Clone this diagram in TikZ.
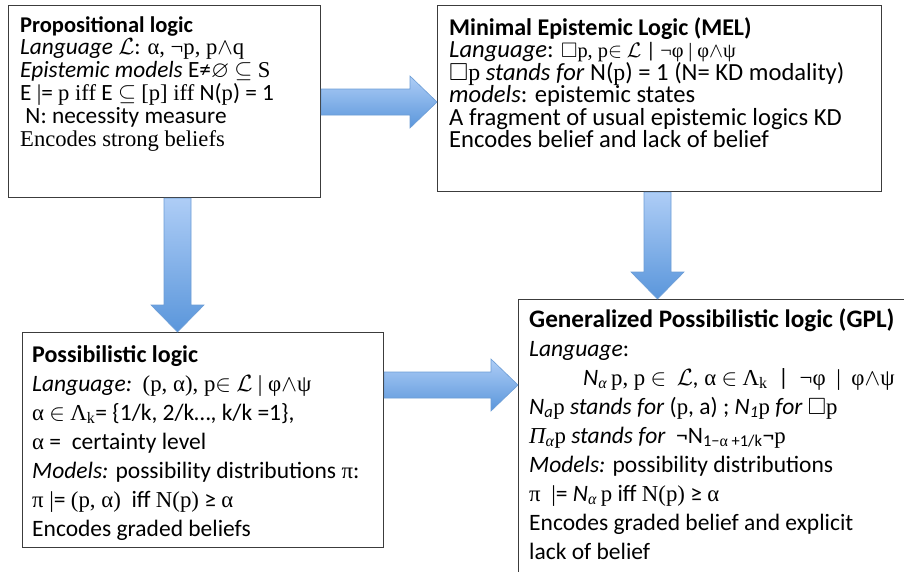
\RequirePackage{fix-cm}
\documentclass[tikz,border=0pt]{standalone}
\usepackage{amssymb}
\usepackage{fontspec}
\setmainfont{Carlito}
\newfontfamily\tm{Liberation Serif}[Scale=0.97]
\usetikzlibrary{calc}
\definecolor{arrtop}{HTML}{AECDF6}
\definecolor{arrbot}{HTML}{5A96DB}
\definecolor{arrline}{HTML}{6C9DD6}
\definecolor{boxline}{HTML}{3C3C3C}
\newcommand\boxtext[4]{\parbox[t]{#1}{\raggedright\fontsize{#2}{#3}\selectfont\lineskiplimit=-100pt\lineskip=0pt #4}}
\newcommand\smallsym[1]{{\fontsize{21}{21}\selectfont #1}}
\newcommand\ttl[2]{{\fontsize{#1}{10}\selectfont\textbf{#2}}}
\newcommand\harrow[2]{%
  \path[blockarrow] let \p1=(#1), \p2=(#2) in
   (\x1,\y1+13pt) -- (\x2-27pt,\y1+13pt) -- (\x2-27pt,\y1+26pt) -- (\x2,\y1)
   -- (\x2-27pt,\y1-26pt) -- (\x2-27pt,\y1-13pt) -- (\x1,\y1-13pt) -- cycle;}
\newcommand\varrow[2]{%
  \path[blockarrow] let \p1=(#1), \p2=(#2) in
   (\x1-13.5pt,\y1) -- (\x1-13.5pt,\y2+27pt) -- (\x1-26.5pt,\y2+27pt) -- (\x1,\y2)
   -- (\x1+26.5pt,\y2+27pt) -- (\x1+13.5pt,\y2+27pt) -- (\x1+13.5pt,\y1) -- cycle;}
\tikzset{
  box/.style={draw=boxline, line width=1.1pt, anchor=north west, inner sep=0pt},
  txt/.style={anchor=base west, inner sep=0pt},
  blockarrow/.style={top color=arrtop, bottom color=arrbot, draw=arrline, line width=0.6pt},
}
\begin{document}
\begin{tikzpicture}[x=1pt,y=-1pt]
\useasboundingbox (0,0) rectangle (904,571);
\clip (0,0) rectangle (904,571);
\fill[white] (0,0) rectangle (904,571);

\node[box, minimum width=312pt, minimum height=192pt] (prop) at (8,5) {};
\node[box, minimum width=444pt, minimum height=186pt] (mel) at (437,5) {};
\node[box, minimum width=361pt, minimum height=215pt] (poss) at (22,332) {};
\node[box, minimum width=430pt, minimum height=320pt] (gpl) at (518,299) {};

\node[txt] (propT) at (20,32) {\boxtext{300pt}{23.3}{22.9pt}{%
\ttl{22.5}{Propositional logic}\\
\textit{Language} $\mathcal{L}$: {\tm α, ¬p, p}$\wedge${\tm q}\\
\textit{Epistemic models} E≠$\varnothing$ $\subseteq$ {\tm S}\\
E {\tm|}= {\tm p iff} E $\subseteq$ {\tm [p] iff} N({\tm p}) = 1\\
\ N: necessity measure\\
{\tm Encodes strong beliefs}}};

\node[txt] (melT) at (449,35) {\boxtext{430pt}{24.6}{22.5pt}{%
\ttl{24}{Minimal Epistemic Logic (MEL)}\\
\textit{Language}: \smallsym{$\square${\tm p, p}$\in$ $\mathcal{L}$ | {\tm ¬φ} {\tm|} {\tm φ}$\wedge${\tm ψ}}\\
$\square${\tm p} \textit{stands for} N({\tm p}) = 1 (N= KD modality)\\
\textit{models}: epistemic states\\
A fragment of usual epistemic logics KD\\
Encodes belief and lack of belief}};

\node[txt] (possT) at (32,362) {\boxtext{350pt}{23.5}{29pt}{%
\ttl{24}{Possibilistic logic}\\
\textit{Language:}\ \ {\tm (p, α), p}$\in$ $\mathcal{L}$ {\tm| φ}$\wedge${\tm ψ}\\
{\tm α} $\in$ {\tm Λ\textsubscript{k}}= \{1/k, 2/k…, k/k =1\},\\
{\tm α} = \ certainty level\\
\textit{Models:} possibility distributions {\tm π}:\\
{\tm π |}= {\tm (p, α)}\ \ iff {\tm N(p)} ≥ {\tm α}\\
Encodes graded beliefs}};

\node[txt] (gplT) at (529,327) {\boxtext{420pt}{23.5}{29pt}{%
\ttl{25.2}{Generalized Possibilistic logic (GPL)}\\
\textit{Language}:\\
\hspace*{54pt}\textit{N}\textsubscript{\tm\itshape α}\,{\tm p, p} $\in$ \ $\mathcal{L}$\textit{,} {\tm α} $\in$ {\tm Λ\textsubscript{k}} \ | \ {\tm ¬φ} \ {\tm|} \ {\tm φ}$\wedge${\tm ψ}\\
\textit{N\textsubscript{a}}{\tm p} \textit{stands for} ({\tm p}, a) ; \textit{N\textsubscript{1}}{\tm p} \textit{for} $\square${\tm p}\\
{\tm\itshape Π\textsubscript{α}}{\tm p} \textit{stands for} \ ¬N\textsubscript{1−{\tm α} +1/k}¬{\tm p}\\
\textit{Models:} possibility distributions\\
{\tm π} \ {\tm |}= \textit{N}\textsubscript{\tm\itshape α}\,{\tm p} iff {\tm N(p)} ≥ {\tm α}\\
Encodes graded belief and explicit\\
lack of belief}};

\coordinate (a1s) at (prop.east |- 0,102);
\coordinate (a1e) at (mel.west |- 0,102);
\coordinate (a2s) at (prop.south -| 177.5,0);
\coordinate (a2e) at (poss.north -| 177.5,0);
\coordinate (a3s) at (mel.south -| 657.5,0);
\coordinate (a3e) at (gpl.north -| 657.5,0);
\coordinate (a4s) at (poss.east |- 0,385);
\coordinate (a4e) at (gpl.west |- 0,385);
\harrow{a1s}{a1e}
\varrow{a2s}{a2e}
\varrow{a3s}{a3e}
\harrow{a4s}{a4e}
\end{tikzpicture}
\end{document}
